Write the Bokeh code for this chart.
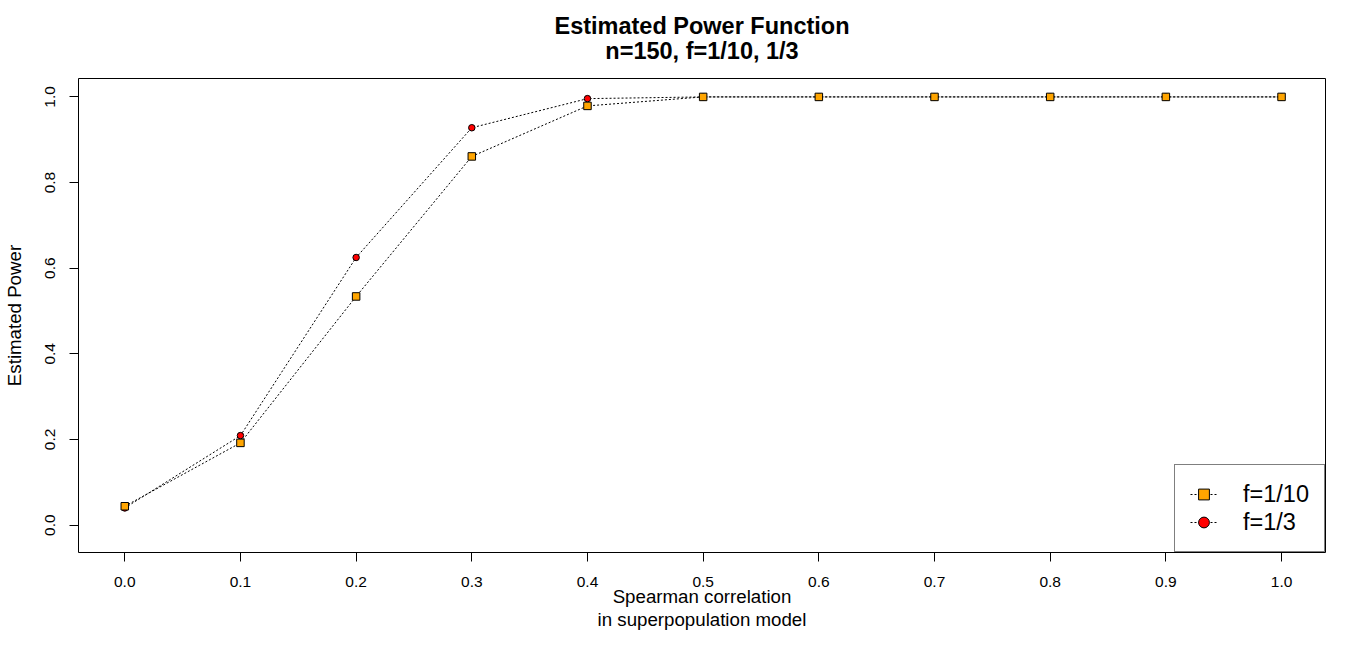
from bokeh.plotting import figure
from bokeh.models import Range1d, FixedTicker, Title, Legend, LegendItem
from bokeh.embed import file_html
from bokeh.resources import INLINE

# ---- data ----
rho = [0.0, 0.1, 0.2, 0.3, 0.4, 0.5, 0.6, 0.7, 0.8, 0.9, 1.0]
power_f10 = [0.044, 0.192, 0.534, 0.861, 0.979, 1.0, 1.0, 1.0, 1.0, 1.0, 1.0]
power_f3 = [0.040, 0.209, 0.625, 0.928, 0.996, 1.0, 1.0, 1.0, 1.0, 1.0, 1.0]

x_ticks = [0.0, 0.1, 0.2, 0.3, 0.4, 0.5, 0.6, 0.7, 0.8, 0.9, 1.0]
x_tick_labels = ["0.0", "0.1", "0.2", "0.3", "0.4", "0.5", "0.6", "0.7", "0.8", "0.9", "1.0"]
y_ticks = [0.0, 0.2, 0.4, 0.6, 0.8, 1.0]
y_tick_labels = ["0.0", "0.2", "0.4", "0.6", "0.8", "1.0"]

title_line1 = "Estimated Power Function"
title_line2 = "n=150, f=1/10, 1/3"
x_label = "Spearman correlation\nin superpopulation model"
y_label = "Estimated Power"
series_labels = ["f=1/10", "f=1/3"]

FONT = "Liberation Sans"

p = figure(width=1350, height=634, output_backend="svg", toolbar_location=None,
           x_range=Range1d(-0.04, 1.038), y_range=Range1d(-0.064, 1.043),
           min_border_left=78, min_border_right=25, min_border_top=78, min_border_bottom=82,
           title=None)

p.background_fill_color = "white"
p.border_fill_color = "white"
p.outline_line_color = "black"
p.outline_line_width = 1
p.xgrid.visible = False
p.ygrid.visible = False

# two centred title lines (second line added first: it sits next to the frame)
t2 = Title(text=title_line2, align="center", vertical_align="top",
           text_font=FONT, text_font_style="bold", text_font_size="23.5px",
           text_color="black", standoff=25)
t1 = Title(text=title_line1, align="center", vertical_align="bottom",
           text_font=FONT, text_font_style="bold", text_font_size="23.5px",
           text_color="black", standoff=-26.4)
p.add_layout(t2, "above")
p.add_layout(t1, "above")

# axes
for ax in (p.xaxis[0], p.yaxis[0]):
    ax.axis_line_color = None
    ax.major_tick_line_color = "black"
    ax.major_tick_out = 9
    ax.major_tick_in = 0
    ax.minor_tick_line_color = None
    ax.major_label_text_font = FONT
    ax.major_label_text_font_size = "15.5px"
    ax.major_label_text_color = "black"
    ax.axis_label_text_font = FONT
    ax.axis_label_text_font_size = "18.7px"
    ax.axis_label_text_font_style = "normal"
    ax.axis_label_text_color = "black"

p.xaxis[0].ticker = FixedTicker(ticks=x_ticks)
p.xaxis[0].major_label_overrides = dict(zip(x_ticks, x_tick_labels))
p.xaxis[0].major_label_standoff = 15
p.xaxis[0].axis_label = x_label
p.xaxis[0].axis_label_standoff = -4
p.xaxis[0].axis_label_text_line_height = 1.1

p.yaxis[0].ticker = FixedTicker(ticks=y_ticks)
p.yaxis[0].major_label_overrides = dict(zip(y_ticks, y_tick_labels))
p.yaxis[0].major_label_orientation = "vertical"
p.yaxis[0].major_label_standoff = 14
p.yaxis[0].axis_label = y_label
p.yaxis[0].axis_label_standoff = 18

# series f=1/3 (drawn first, under the squares)
l3 = p.line(rho, power_f3, line_color="black", line_width=1, line_dash="2 2")
s3 = p.scatter(rho, power_f3, marker="circle", size=6.5, fill_color="#FF0000",
               line_color="black", line_width=1)
# series f=1/10
l10 = p.line(rho, power_f10, line_color="black", line_width=1, line_dash="2 2")
s10 = p.scatter(rho, power_f10, marker="square", size=7.5, fill_color="#FFA500",
                line_color="black", line_width=1)

legend = Legend(items=[LegendItem(label=series_labels[0], renderers=[l10, s10]),
                       LegendItem(label=series_labels[1], renderers=[l3, s3])],
                location="bottom_right", margin=0, padding=15, spacing=0,
                glyph_width=27, glyph_height=28, label_height=28, label_standoff=26,
                label_text_font=FONT, label_text_font_size="23.5px", label_text_color="black",
                border_line_color="black", border_line_width=1,
                background_fill_color="white", background_fill_alpha=1.0)
p.add_layout(legend, "center")

open("out.html", "w").write(file_html(p, INLINE))
